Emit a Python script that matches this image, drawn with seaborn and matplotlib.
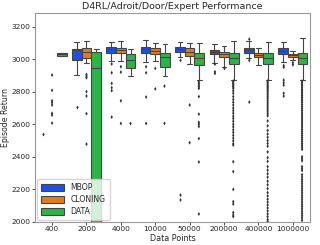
import numpy as np
import pandas as pd
import matplotlib
matplotlib.use("Agg")
import matplotlib.pyplot as plt
import seaborn as sns

categories = ["400", "2000", "4000", "10000", "50000", "200000", "400000", "1000000"]
methods = ["MBOP", "CLONING", "DATA"]

# five-number summaries (whisker low, q1, median, q3, whisker high); nan = no box
mbop_low  = [np.nan, 2900, 2988, 2984, 3014, 2974, 3006, 2984]
mbop_q1   = [np.nan, 2996, 3035, 3035, 3045, 3031, 3039, 3029]
mbop_med  = [np.nan, 3055, 3060, 3060, 3061, 3045, 3055, 3050]
mbop_q3   = [np.nan, 3064, 3076, 3076, 3076, 3055, 3069, 3069]
mbop_high = [np.nan, 3102, 3107, 3117, 3107, 3090, 3112, 3107]

clon_low  = [np.nan, 2974, 2988, 2988, 2969, 2953, 2963, 2992]
clon_q1   = [np.nan, 3004, 3035, 3029, 3018, 3010, 3010, 3012]
clon_med  = [np.nan, 3045, 3053, 3049, 3041, 3029, 3025, 3022]
clon_q3   = [np.nan, 3066, 3066, 3066, 3066, 3045, 3039, 3033]
clon_high = [np.nan, 3108, 3108, 3096, 3096, 3080, 3066, 3050]

data_low  = [3018, 1200, 2896, 2898, 2871, 2871, 2871, 2871]
data_q1   = [3018, 1700, 2943, 2953, 2963, 2969, 2969, 2969]
data_med  = [3030, 2947, 2994, 3012, 3004, 3004, 3004, 3004]
data_q3   = [3040, 3041, 3029, 3039, 3039, 3035, 3039, 3035]
data_high = [3040, 3060, 3060, 3092, 3096, 3110, 3107, 3131]

mbop_fliers = [
    [2540],
    [2707],
    [2970, 2916, 2851, 2824, 2806, 2644],
    [2953, 2916, 2767, 2605],
    [2992, 2165, 2135],
    [2969, 2922, 2912],
    [3122, 2992, 2736],
    [2960, 2950, 2871, 2855, 2840, 2790, 2773],
]
clon_fliers = [
    [2902, 2808, 2744, 2732, 2718, 2667, 2656, 2607],
    [2905, 2895, 2885, 2800, 2773, 2665, 2478],
    [2953, 2920, 2744, 2605],
    [2943, 2817],
    [2718, 2487],
    [2945],
    [],
    [2978, 2965],
]
data_fliers = [
    [],
    [],
    [2607],
    [2834, 2605],
    [2860, 2850, 2840, 2830, 2820, 2770, 2662, 2612, 2600, 2586, 2512, 2368, 2049],
    [2865, 2858, 2850, 2843, 2836, 2828, 2820, 2805, 2790, 2770, 2752, 2735, 2718,
     2700, 2684, 2668, 2650, 2635, 2618, 2600, 2584, 2566, 2550, 2532, 2515, 2498,
     2480, 2472, 2370, 2309, 2200, 2125, 2110, 2058, 2043, 2033],
    [2865, 2857, 2849, 2841, 2833, 2825, 2817, 2809, 2800, 2790, 2780, 2770, 2760,
     2748, 2736, 2724, 2712, 2700, 2688, 2676, 2664, 2652, 2620, 2590, 2562, 2540,
     2520, 2500, 2482, 2465, 2430, 2395, 2372, 2340, 2318, 2296, 2275, 2250, 2228,
     2205, 2180, 2160, 2140, 2122, 2104, 2086, 2068, 2050, 2033, 2015, 2003],
    [2865, 2855, 2845, 2835, 2825, 2815, 2805, 2795, 2785, 2775, 2765, 2755, 2745,
     2735, 2722, 2710, 2698, 2686, 2674, 2662, 2650, 2638, 2626, 2614, 2602, 2590,
     2578, 2566, 2554, 2542, 2530, 2518, 2506, 2494, 2482, 2470, 2458, 2446, 2400,
     2388, 2376, 2340, 2328, 2316, 2290, 2276, 2262, 2248, 2234, 2220, 2206, 2192,
     2178, 2164, 2150, 2136, 2122, 2108, 2094, 2080, 2066, 2052, 2038, 2024, 2010],
]

summaries = {
    "MBOP": (mbop_low, mbop_q1, mbop_med, mbop_q3, mbop_high),
    "CLONING": (clon_low, clon_q1, clon_med, clon_q3, clon_high),
    "DATA": (data_low, data_q1, data_med, data_q3, data_high),
}
fliers = {"MBOP": mbop_fliers, "CLONING": clon_fliers, "DATA": data_fliers}

box_rows = []
for m in methods:
    cols = summaries[m]
    for i, c in enumerate(categories):
        vals = [col[i] for col in cols]
        if np.isnan(vals[0]):
            continue
        for v in vals:
            box_rows.append({"Data Points": c, "Method": m, "Episode Return": v})
box_df = pd.DataFrame(box_rows)

flier_rows = []
for m in methods:
    for i, c in enumerate(categories):
        for v in fliers[m][i]:
            flier_rows.append({"Data Points": c, "Method": m, "Episode Return": v})
flier_df = pd.DataFrame(flier_rows)

sns.set_style("ticks", {"axes.edgecolor": ".6"})
plt.rcParams["font.family"] = ["DejaVu Sans"]

fig, ax = plt.subplots(figsize=(3.2, 2.45), dpi=100)
fig.subplots_adjust(left=0.109, right=0.969, top=0.945, bottom=0.094)

palette = sns.color_palette("bright", 3)
sns.boxplot(data=box_df, x="Data Points", y="Episode Return", hue="Method",
            order=categories, hue_order=methods, palette=palette,
            whis=(0, 100), showfliers=False, linewidth=0.8, width=0.84, ax=ax)
sns.stripplot(data=flier_df, x="Data Points", y="Episode Return", hue="Method",
              order=categories, hue_order=methods, dodge=True, jitter=False,
              marker="d", size=2.0, palette=[".2", ".2", ".2"],
              linewidth=0, legend=False, ax=ax)

ax.set_ylim(2000, 3280)
ax.set_yticks([2000, 2200, 2400, 2600, 2800, 3000, 3200])
ax.set_title("D4RL/Adroit/Door/Expert Performance", fontsize=6.8, pad=3)
ax.set_xlabel("Data Points", fontsize=5.8, labelpad=1)
ax.set_ylabel("Episode Return", fontsize=5.6, labelpad=1)
ax.tick_params(axis="both", labelsize=5.4, length=2, width=0.6, pad=1.2)
for s in ax.spines.values():
    s.set_linewidth(0.8)

sns.move_legend(ax, "lower left", title=None, fontsize=5.6, frameon=True,
                handlelength=3.0, handleheight=1.0, borderpad=0.5,
                labelspacing=0.35, borderaxespad=0.3)

fig.savefig("out.png", dpi=100)
